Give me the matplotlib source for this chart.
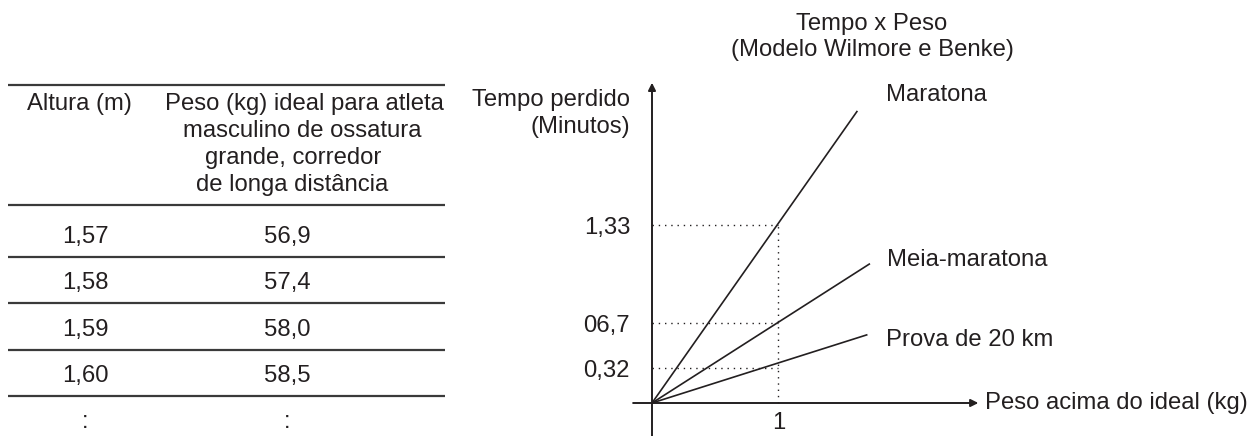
import matplotlib.pyplot as plt

plt.rcParams['font.family'] = ['Liberation Sans', 'DejaVu Sans']

# --- dados da tabela ---
cab_altura = "Altura (m)"
cab_peso = ["Peso (kg) ideal para atleta", "masculino de ossatura",
            "grande, corredor", "de longa distância"]
alturas = ["1,57", "1,58", "1,59", "1,60", ":"]
pesos = ["56,9", "57,4", "58,0", "58,5", ":"]

# --- dados do gráfico (Tempo x Peso) ---
provas = ["Maratona", "Meia-maratona", "Prova de 20 km"]
x_fim = [1.63, 1.73, 1.71]      # fim de cada reta (kg)
y_fim = [2.18, 1.04, 0.51]      # tempo no fim de cada reta
marcas_y = [1.33, 0.60, 0.26]   # posição das marcas no eixo vertical
marcas_rot = ["1,33", "06,7", "0,32"]
marca_x = 1

COR = "#231f20"
FS = 17.2
W, H = 1251, 436

fig = plt.figure(figsize=(W / 100, H / 100), dpi=100)

# =====================================================================
# tabela (coordenadas em pixels)
# =====================================================================
ax_t = fig.add_axes([0, 0, 1, 1])
ax_t.set_xlim(0, W)
ax_t.set_ylim(H, 0)
ax_t.axis('off')

col_x = [85, 287]
regra_x = (8, 445)
regra_kw = dict(color="#3a3a3a", lw=1.6, solid_capstyle='butt')

ax_t.plot(regra_x, [85, 85], **regra_kw)
ax_t.plot(regra_x, [205, 205], **regra_kw)

ax_t.text(79, 103.5, cab_altura, ha='center', va='center', fontsize=FS, color=COR)
cab_x = [304, 302, 293, 292]
for i, linha in enumerate(cab_peso):
    ax_t.text(cab_x[i], 103.5 + 27 * i, linha, ha='center', va='center',
              fontsize=FS, color=COR)

for i, (a, p) in enumerate(zip(alturas, pesos)):
    yc = 237 + 46.3 * i
    ax_t.text(col_x[0], yc, a, ha='center', va='center', fontsize=FS, color=COR)
    ax_t.text(col_x[1], yc, p, ha='center', va='center', fontsize=FS, color=COR)
    if a != ":":
        ax_t.plot(regra_x, [yc + 20, yc + 20], **regra_kw)

# =====================================================================
# gráfico
# =====================================================================
ox, oy = 652, 403   # origem em pixels
ux, uy = 126, 134   # pixels por unidade
left, right, top, bottom = 600, 1010, 60, 436
ax = fig.add_axes([left / W, 1 - bottom / H, (right - left) / W, (bottom - top) / H])
ax.set_xlim((left - ox) / ux, (right - ox) / ux)
ax.set_ylim((oy - bottom) / uy, (oy - top) / uy)
ax.axis('off')
ax.patch.set_alpha(0)

seta = dict(arrowstyle='-|>', color=COR, lw=1.4, mutation_scale=11,
            shrinkA=0, shrinkB=0)
x_eixo = (-0.15, 2.59)
y_eixo = (-0.25, 2.39)
ax.annotate('', xy=(x_eixo[1], 0), xytext=(x_eixo[0], 0), arrowprops=seta)
ax.annotate('', xy=(0, y_eixo[1]), xytext=(0, y_eixo[0]), arrowprops=seta)

ax.annotate("Peso acima do ideal (kg)", xy=(x_eixo[1], 0), xytext=(7, 0),
            textcoords='offset pixels', ha='left', va='center',
            fontsize=FS, color=COR)

# linhas pontilhadas
pont = dict(color=COR, lw=1.0, linestyle=(0, (1, 3.5)))
for yv in marcas_y:
    ax.plot([0, marca_x], [yv, yv], **pont)
ax.plot([marca_x, marca_x], [0, max(marcas_y)], **pont)

# retas
for xf, yf in zip(x_fim, y_fim):
    ax.plot([0, xf], [0, yf], color=COR, lw=1.2, solid_capstyle='butt')

# rótulos das provas
rot_off = [(29, 16), (17, 4), (19, -5)]
for nome, xf, yf, off in zip(provas, x_fim, y_fim, rot_off):
    ax.annotate(nome, xy=(xf, yf), xytext=off, textcoords='offset pixels',
                ha='left', va='center', fontsize=FS, color=COR)

# marcas do eixo vertical
for yv, rot in zip(marcas_y, marcas_rot):
    ax.annotate(rot, xy=(0, yv), xytext=(-22, -3), textcoords='offset pixels',
                ha='right', va='center', fontsize=FS, color=COR)
ax.annotate("1", xy=(marca_x, 0), xytext=(1, -20), textcoords='offset pixels',
            ha='center', va='center', fontsize=FS, color=COR)

# títulos
fig.text(630 / W, 1 - 100 / H, "Tempo perdido", ha='right', va='center',
         fontsize=FS, color=COR)
fig.text(630 / W, 1 - 127 / H, "(Minutos)", ha='right', va='center',
         fontsize=FS, color=COR)
fig.text(872 / W, 1 - 24 / H, "Tempo x Peso", ha='center', va='center',
         fontsize=FS, color=COR)
fig.text(872 / W, 1 - 50 / H, "(Modelo Wilmore e Benke)", ha='center', va='center',
         fontsize=FS, color=COR)

fig.savefig("out.png", dpi=100, facecolor='white')
